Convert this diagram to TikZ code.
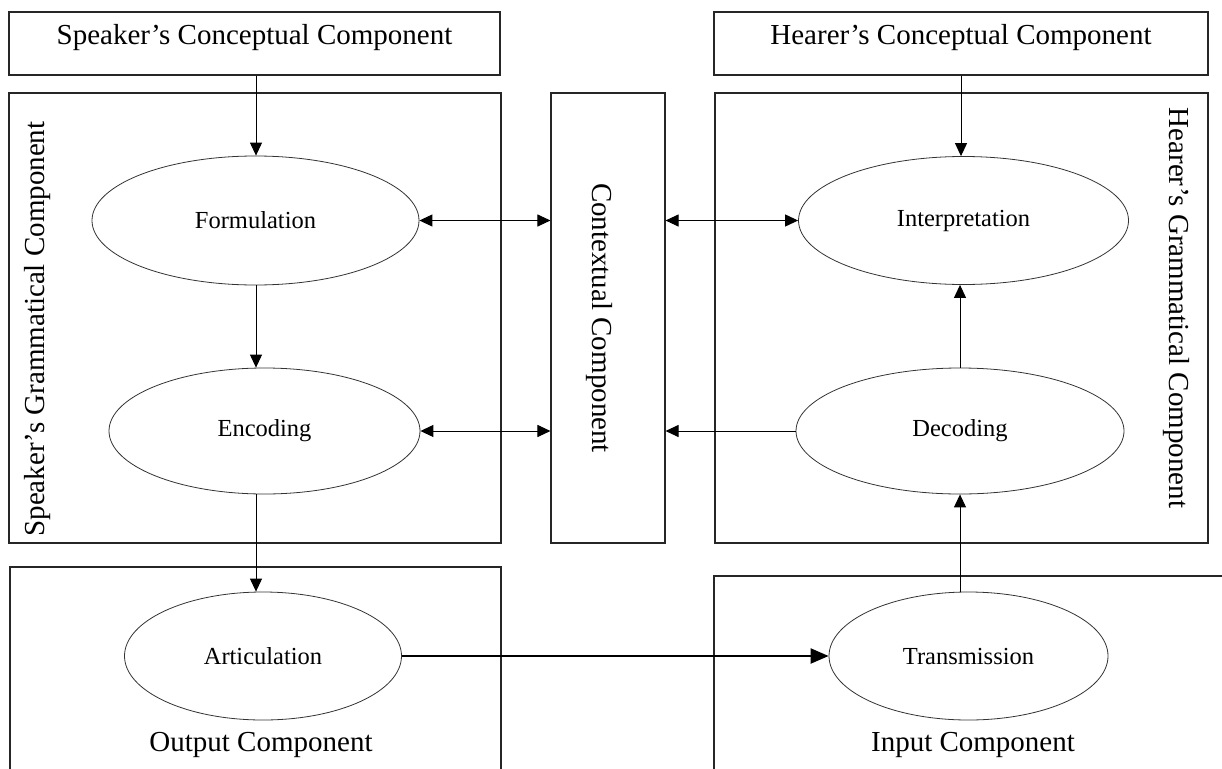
\documentclass[tikz,border=0pt]{standalone}
\usepackage{fontspec}
\setmainfont{Liberation Serif}
\usetikzlibrary{arrows.meta,shapes.geometric}
\tikzset{
  boxnode/.style={draw=black!85, line width=1.1pt, rectangle, inner sep=0pt},
  proc/.style={draw=black!80, line width=0.8pt, ellipse, inner sep=0pt, font=\fontsize{24.5}{26}\selectfont},
  biglabel/.style={inner sep=0pt, font=\fontsize{29}{31}\selectfont},
  arr/.style={line width=1pt, -{Triangle[length=13pt,width=12pt]}},
  darr/.style={line width=1pt, {Triangle[length=13pt,width=12pt]}-{Triangle[length=13pt,width=12pt]}},
  thickarr/.style={line width=2.2pt, -{Triangle[length=18pt,width=15pt]}}
}
\begin{document}
\begin{tikzpicture}[x=1pt,y=-1pt]
\useasboundingbox (0,0) rectangle (1222,768);
\clip (0,0) rectangle (1222,768);
\fill[white] (0,0) rectangle (1222,768);
% boxes
\node[boxnode, minimum width=491pt, minimum height=63pt] (sconc) at (254.5,43.5) {};
\node[boxnode, minimum width=494pt, minimum height=63pt] (hconc) at (961,43.5) {};
\node[boxnode, minimum width=492pt, minimum height=450pt] (sgram) at (255,318) {};
\node[boxnode, minimum width=114pt, minimum height=450pt] (ctx) at (608,318) {};
\node[boxnode, minimum width=493pt, minimum height=450pt] (hgram) at (961.5,318) {};
\node[boxnode, minimum width=491pt, minimum height=233pt] (outp) at (255.5,683.5) {};
\node[boxnode, minimum width=546pt, minimum height=224pt] (inp) at (987,688) {};
% box labels
\node[biglabel] (sconcl) at (254.5,37.5) {Speaker’s Conceptual Component};
\node[biglabel] (hconcl) at (961,37.5) {Hearer’s Conceptual Component};
\node[biglabel, rotate=90] (sgraml) at (37.5,329) {Speaker’s Grammatical Component};
\node[biglabel, rotate=-90] (hgraml) at (1176,308) {Hearer’s Grammatical Component};
\node[biglabel, rotate=-90] (ctxl) at (599,318) {Contextual Component};
\node[biglabel] (outpl) at (261,745) {Output Component};
\node[biglabel] (inpl) at (973,745) {Input Component};
% ellipses
\node[proc, minimum width=327pt, minimum height=129pt] (form) at (255.5,220.5) {Formulation};
\node[proc, minimum width=311pt, minimum height=126pt] (enc) at (264.5,431) {Encoding};
\node[proc, minimum width=330pt, minimum height=128pt] (interp) at (963.5,220.5) {Interpretation};
\node[proc, minimum width=328pt, minimum height=126pt] (dec) at (960,431) {Decoding};
\node[proc, minimum width=277pt, minimum height=128pt] (art) at (263,656) {Articulation};
\node[proc, minimum width=279pt, minimum height=128pt] (trans) at (968.5,656) {Transmission};
% connectors
\coordinate (sx) at (256,0);
\coordinate (hx) at (961,0);
\coordinate (dx) at (960,0);
\draw[arr] (sx |- sconc.south) -- (sx |- form.north);
\draw[arr] (sx |- form.south) -- (sx |- enc.north);
\draw[arr] (sx |- enc.south) -- (sx |- art.north);
\draw[darr] (form.east) -- (form.east -| ctx.west);
\draw[darr] (enc.east) -- (enc.east -| ctx.west);
\draw[darr] (interp.west -| ctx.east) -- (interp.west);
\draw[arr] (dec.west) -- (dec.west -| ctx.east);
\draw[arr] (hx |- hconc.south) -- (hx |- interp.north);
\draw[arr] (dx |- dec.north) -- (dx |- interp.south);
\draw[arr] (dx |- trans.north) -- (dx |- dec.south);
\draw[thickarr] (art.east) -- (trans.west);
\end{tikzpicture}
\end{document}
